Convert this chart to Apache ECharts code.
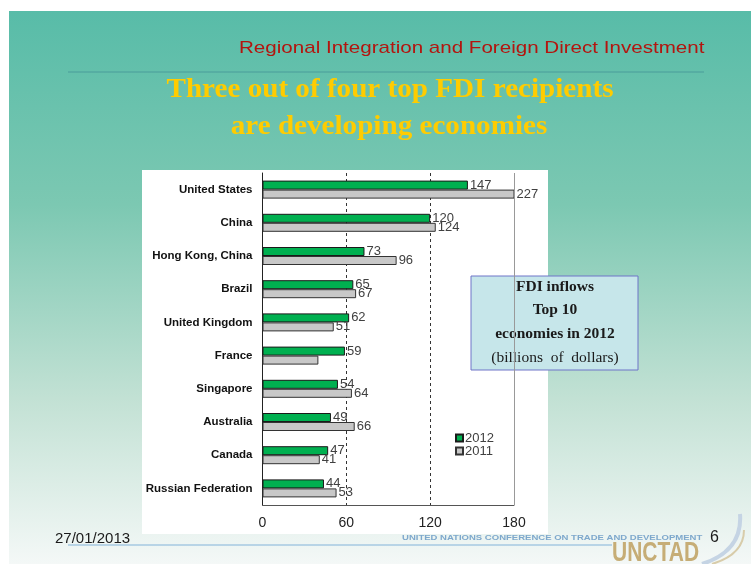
<!DOCTYPE html>
<html>
<head>
<meta charset="utf-8">
<script src="https://cdn.jsdelivr.net/npm/echarts@6/dist/echarts.min.js"></script>
<style>
  html, body { margin: 0; padding: 0; background: #fff; }
  #chart { width: 751px; height: 564px; }
</style>
</head>
<body>
<div id="chart"></div>
<script>
const countries = ['United States', 'China', 'Hong Kong, China', 'Brazil', 'United Kingdom',
  'France', 'Singapore', 'Australia', 'Canada', 'Russian Federation'];
const fdi2012 = [147, 120, 73, 65, 62, 59, 54, 49, 47, 44];
const fdi2011 = [227, 124, 96, 67, 51, 40, 64, 66, 41, 53];
const hiddenLabels2011 = ['France'];
const xTicks = [0, 60, 120, 180];

const chart = echarts.init(document.getElementById('chart'));

const valueLabel = {
  show: true,
  position: 'right',
  distance: 2,
  color: '#404040',
  fontFamily: 'Liberation Sans, Arial',
  fontSize: 13
};

const boxFont = '15.5px "Liberation Serif", serif';

chart.setOption({
  animation: false,
  graphic: [
    // slide background
    {
      type: 'rect', z: -10, silent: true,
      shape: { x: 9, y: 11, width: 742, height: 553 },
      style: {
        fill: new echarts.graphic.LinearGradient(0, 0, 0, 1, [
          { offset: 0, color: '#58bca8' },
          { offset: 0.35, color: '#7cc8b2' },
          { offset: 0.7, color: '#c2e1d4' },
          { offset: 1, color: '#f4f8f7' }
        ])
      }
    },
    // header rule
    { type: 'line', z: -5, silent: true, shape: { x1: 68, y1: 72, x2: 704, y2: 72 }, style: { stroke: '#4a9c9a', lineWidth: 1 } },
    // chart panel
    { type: 'rect', z: -5, silent: true, shape: { x: 142, y: 170, width: 406, height: 364 }, style: { fill: '#ffffff' } },
    // footer rule
    { type: 'line', z: -5, silent: true, shape: { x1: 68, y1: 545, x2: 612, y2: 545 }, style: { stroke: '#b8d4e6', lineWidth: 2 } },
    // header
    {
      type: 'text', x: 239, y: 48, scaleX: 1.21,
      style: { text: 'Regional Integration and Foreign Direct Investment', fill: '#b3150f', font: '17px "Liberation Sans", Arial', verticalAlign: 'middle' }
    },
    // title
    {
      type: 'text', x: 390, y: 90, scaleX: 1.04,
      style: { text: 'Three out of four top FDI recipients', fill: '#ffcc00', font: 'bold 28px "Liberation Serif", serif', align: 'center', verticalAlign: 'middle' }
    },
    {
      type: 'text', x: 389, y: 127, scaleX: 1.04,
      style: { text: 'are developing economies', fill: '#ffcc00', font: 'bold 28px "Liberation Serif", serif', align: 'center', verticalAlign: 'middle' }
    },
    // text box
    {
      type: 'group', x: 471, y: 276,
      children: [
        { type: 'rect', shape: { x: 0, y: 0, width: 167, height: 94 }, style: { fill: '#c6e6ea', stroke: '#6f74c8', lineWidth: 1 } },
        { type: 'text', x: 84, y: 11, style: { text: 'FDI inflows', fill: '#1a1a1a', font: 'bold ' + boxFont, align: 'center', verticalAlign: 'middle' } },
        { type: 'text', x: 84, y: 34, style: { text: 'Top 10', fill: '#1a1a1a', font: 'bold ' + boxFont, align: 'center', verticalAlign: 'middle' } },
        { type: 'text', x: 84, y: 58, style: { text: 'economies in 2012', fill: '#1a1a1a', font: 'bold ' + boxFont, align: 'center', verticalAlign: 'middle' } },
        { type: 'text', x: 84, y: 82, style: { text: '(billions  of  dollars)', fill: '#1a1a1a', font: boxFont, align: 'center', verticalAlign: 'middle' } }
      ]
    },
    // footer
    { type: 'text', x: 55, y: 539, style: { text: '27/01/2013', fill: '#1a1a1a', font: '15px "Liberation Sans", Arial', verticalAlign: 'middle' } },
    { type: 'text', x: 402, y: 538, scaleX: 1.19, style: { text: 'UNITED NATIONS CONFERENCE ON TRADE AND DEVELOPMENT', fill: '#7ea8cc', font: 'bold 8px "Liberation Sans", Arial', verticalAlign: 'middle' } },
    { type: 'text', x: 710, y: 538, style: { text: '6', fill: '#1a1a1a', font: '16px "Liberation Sans", Arial', verticalAlign: 'middle' } },
    { type: 'text', x: 612, y: 553, scaleX: 0.75, style: { text: 'UNCTAD', fill: '#c6ad76', font: 'bold 28px "Liberation Sans", Arial', verticalAlign: 'middle' } },
    {
      type: 'bezierCurve', silent: true,
      shape: { x1: 740, y1: 514, x2: 702, y2: 564, cpx1: 742, cpy1: 540, cpx2: 727, cpy2: 556 },
      style: { stroke: '#c5d4e4', lineWidth: 4, fill: null }
    },
    {
      type: 'bezierCurve', silent: true,
      shape: { x1: 744, y1: 530, x2: 712, y2: 564, cpx1: 744, cpy1: 548, cpx2: 732, cpy2: 558 },
      style: { stroke: '#d8ccaa', lineWidth: 2, fill: null }
    }
  ],
  legend: {
    orient: 'vertical',
    left: 455,
    top: 431.5,
    padding: 0,
    itemWidth: 7,
    itemHeight: 7,
    itemGap: 0,
    icon: 'rect',
    textStyle: { color: '#404040', fontFamily: 'Liberation Sans, Arial', fontSize: 13, lineHeight: 11, padding: [0, 0, 0, -3] },
    data: ['2012', '2011']
  },
  grid: { left: 262.5, right: 237, top: 173, bottom: 59, containLabel: false },
  xAxis: {
    type: 'value',
    min: xTicks[0],
    max: xTicks[xTicks.length - 1],
    interval: 60,
    axisLine: { show: true, lineStyle: { color: '#555', width: 1 } },
    axisTick: { show: false },
    axisLabel: { color: '#222', fontFamily: 'Liberation Sans, Arial', fontSize: 14, margin: 11 },
    splitLine: { show: true, showMinLine: false, showMaxLine: false, lineStyle: { color: '#333', type: [3, 3], width: 1 } }
  },
  yAxis: {
    type: 'category',
    inverse: true,
    data: countries,
    axisLine: { show: true, lineStyle: { color: '#222', width: 1 } },
    axisTick: { show: false },
    axisLabel: { color: '#111', fontFamily: 'Liberation Sans, Arial', fontWeight: 'bold', fontSize: 11.5, margin: 10 }
  },
  series: [
    {
      name: '2012',
      type: 'bar',
      barWidth: 9,
      barGap: '0%',
      itemStyle: { color: '#00b050', borderColor: '#1a1a1a', borderWidth: 1 },
      label: valueLabel,
      data: fdi2012,
      markLine: {
        silent: true,
        symbol: 'none',
        label: { show: false },
        lineStyle: { color: '#999', type: 'solid', width: 1 },
        data: [{ xAxis: xTicks[xTicks.length - 1] }]
      }
    },
    {
      name: '2011',
      type: 'bar',
      barWidth: 9,
      itemStyle: { color: '#c8c8c8', borderColor: '#333', borderWidth: 1 },
      label: valueLabel,
      data: fdi2011.map((v, i) => hiddenLabels2011.includes(countries[i]) ? { value: v, label: { show: false } } : v)
    }
  ]
});
</script>
</body>
</html>
